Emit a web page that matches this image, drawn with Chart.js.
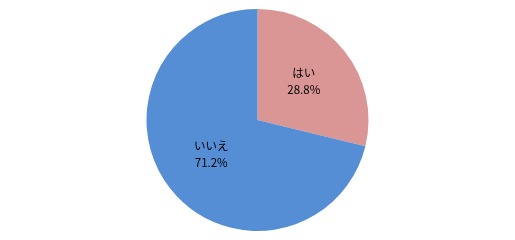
<!DOCTYPE html>
<html>
<head>
<meta charset="utf-8">
<script src="https://cdn.jsdelivr.net/npm/chart.js@4/dist/chart.umd.min.js"></script>
<style>
  html, body { margin: 0; padding: 0; background: #fff; }
  #wrap { width: 515px; height: 240px; position: relative; }
</style>
</head>
<body>
<div id="wrap"><canvas id="pie"></canvas></div>
<script>
const labels = ['はい', 'いいえ'];
const values = [28.8, 71.2];
const colors = ['#D99694', '#558ED5'];

// ラベルと割合をスライスの中に描く
const sliceLabels = {
    id: 'sliceLabels',
    afterDatasetsDraw(chart) {
        const ctx = chart.ctx;
        const meta = chart.getDatasetMeta(0);
        ctx.save();
        ctx.fillStyle = '#000';
        ctx.textAlign = 'center';
        ctx.textBaseline = 'middle';
        ctx.font = '11.5px "Noto Sans CJK JP", sans-serif';
        meta.data.forEach((arc, i) => {
            const p = arc.getProps(['x', 'y', 'startAngle', 'endAngle', 'outerRadius']);
            const mid = (p.startAngle + p.endAngle) / 2;
            const r = p.outerRadius * 0.53;
            const x = p.x + Math.cos(mid) * r;
            const y = p.y + Math.sin(mid) * r - 2.5;
            ctx.fillText(labels[i], x, y - 8.5);
            ctx.fillText(values[i].toFixed(1) + '%', x, y + 8.5);
        });
        ctx.restore();
    }
};

new Chart(document.querySelector('#pie'), {
    type: 'pie',
    data: {
        labels: labels,
        datasets: [{
            data: values,
            backgroundColor: colors,
            borderWidth: 0
        }]
    },
    options: {
        responsive: true,
        maintainAspectRatio: false,
        animation: false,
        layout: { padding: { top: 9, bottom: 9 } },
        plugins: {
            legend: { display: false },
            tooltip: { enabled: false }
        }
    },
    plugins: [sliceLabels]
});
</script>
</body>
</html>
